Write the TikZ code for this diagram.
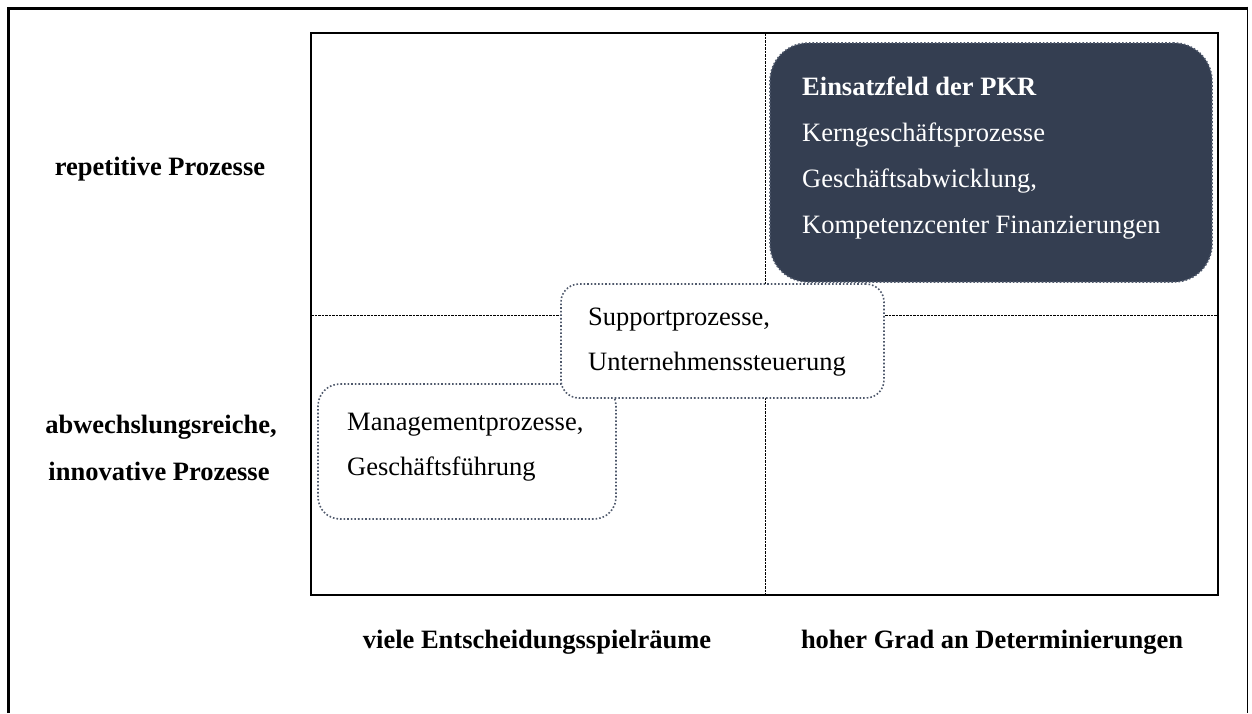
\documentclass[tikz,border=0pt]{standalone}
\usepackage{fontspec}
\setmainfont{Liberation Serif}
\definecolor{slate}{HTML}{343E51}
\definecolor{rim}{HTML}{4E586B}
\begin{document}
\begin{tikzpicture}[x=1pt,y=-1pt,
  txt/.style={inner sep=0pt,anchor=base west,font=\fontsize{26.5}{30}\selectfont},
  lbl/.style={inner sep=0pt,anchor=base,font=\fontsize{26.5}{30}\selectfont\bfseries},
  grid/.style={line width=0.9pt,dash pattern=on 2.5pt off 1pt},
  card/.style={draw=rim,line width=1.6pt,dotted,fill=white,inner sep=0pt},
]
\useasboundingbox (0,0) rectangle (1252,713);

% outer frame (open at the bottom)
\draw[line width=3pt] (8,713) -- (8,8) -- (1247.5,8);
\draw[line width=1.5pt] (1247.5,6.5) -- (1247.5,713);

% quadrant grid
\coordinate (gtl) at (311,33);
\coordinate (gbr) at (1218,595);
\coordinate (vt) at (765,33);
\coordinate (vb) at (765,595);
\coordinate (hl) at (311,315);
\coordinate (hr) at (1218,315);
\draw[grid] (vt) -- (vb);
\draw[grid] (hl) -- (hr);
\draw[line width=2pt] (gtl) rectangle (gbr);

% process cards
\node (mgmt) [card,rounded corners=22pt,minimum width=298pt,minimum height=135pt] at (467,451.5) {};
\node (supp) [card,rounded corners=18pt,minimum width=323pt,minimum height=114pt] at (722.5,341) {};
\node (pkr) [card,fill=slate,rounded corners=38pt,minimum width=442pt,minimum height=239pt] at (991,162.5) {};

% card texts
\node (pkr1) [txt,text=white,font=\fontsize{26.5}{30}\selectfont\bfseries] at (802,95.5) {Einsatzfeld der PKR};
\node (pkr2) [txt,text=white] at (802,141.5) {Kerngeschäftsprozesse};
\node (pkr3) [txt,text=white] at (802,187) {Geschäftsabwicklung,};
\node (pkr4) [txt,text=white] at (802,233) {Kompetenzcenter Finanzierungen};

\node (supp1) [txt] at (588,325) {Supportprozesse,};
\node (supp2) [txt] at (588,370) {Unternehmenssteuerung};

\node (mgmt1) [txt] at (347,430) {Managementprozesse,};
\node (mgmt2) [txt] at (347,475) {Geschäftsführung};

% axis labels
\node (rep) [lbl] at (160,175) {repetitive Prozesse};
\node (abw1) [lbl] at (161,433) {abwechslungsreiche,};
\node (abw2) [lbl] at (159,480) {innovative Prozesse};
\node (viele) [lbl] at (537,648) {viele Entscheidungsspielräume};
\node (hoher) [lbl] at (992,648) {hoher Grad an Determinierungen};
\end{tikzpicture}
\end{document}
